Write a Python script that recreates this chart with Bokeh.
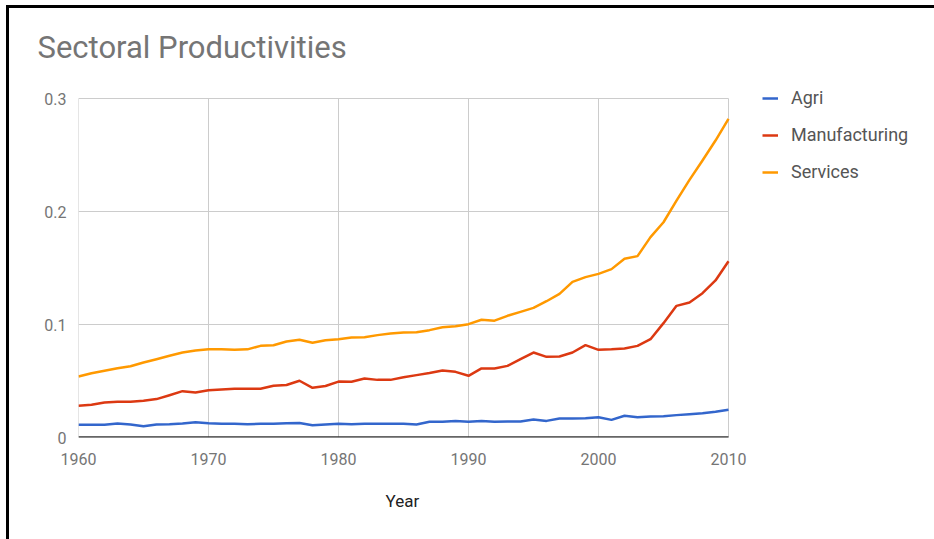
from bokeh.plotting import figure
from bokeh.models import (Range1d, FixedTicker, CustomJSTickFormatter,
                          Legend, LegendItem, Title)
from bokeh.embed import file_html
from bokeh.resources import INLINE

# ---- data -------------------------------------------------------------
years = list(range(1960, 2011))

agri = [0.0112, 0.0112, 0.0112, 0.0124, 0.0115, 0.0100, 0.0115, 0.0118, 0.0124, 0.0136,
        0.0127, 0.0121, 0.0121, 0.0118, 0.0121, 0.0121, 0.0127, 0.0129, 0.0109, 0.0115,
        0.0121, 0.0118, 0.0121, 0.0121, 0.0121, 0.0121, 0.0115, 0.0139, 0.0139, 0.0145,
        0.0139, 0.0145, 0.0139, 0.0142, 0.0142, 0.0159, 0.0147, 0.0168, 0.0168, 0.0171,
        0.0180, 0.0156, 0.0192, 0.0180, 0.0186, 0.0189, 0.0198, 0.0206, 0.0215, 0.0227,
        0.0245]

manufacturing = [0.0280, 0.0290, 0.0310, 0.0316, 0.0316, 0.0325, 0.0340, 0.0374, 0.0410, 0.0398,
                 0.0419, 0.0425, 0.0431, 0.0431, 0.0431, 0.0458, 0.0465, 0.0502, 0.0440, 0.0456,
                 0.0495, 0.0493, 0.0522, 0.0510, 0.0510, 0.0534, 0.0552, 0.0570, 0.0593, 0.0581,
                 0.0546, 0.0611, 0.0610, 0.0634, 0.0693, 0.0752, 0.0714, 0.0717, 0.0752, 0.0817,
                 0.0776, 0.0780, 0.0788, 0.0811, 0.0870, 0.1012, 0.1165, 0.1195, 0.1277, 0.1390,
                 0.1560]

services = [0.0540, 0.0569, 0.0590, 0.0612, 0.0630, 0.0664, 0.0693, 0.0723, 0.0752, 0.0770,
            0.0782, 0.0782, 0.0776, 0.0780, 0.0811, 0.0817, 0.0850, 0.0865, 0.0838, 0.0860,
            0.0870, 0.0884, 0.0887, 0.0906, 0.0920, 0.0929, 0.0932, 0.0950, 0.0976, 0.0985,
            0.1003, 0.1042, 0.1034, 0.1077, 0.1112, 0.1147, 0.1206, 0.1271, 0.1377, 0.1419,
            0.1448, 0.1490, 0.1581, 0.1605, 0.1773, 0.1905, 0.2097, 0.2280, 0.2451, 0.2628,
            0.2820]

series_names = ["Agri", "Manufacturing", "Services"]
series_colors = ["#3366cc", "#dc3912", "#ff9900"]
x_ticks = [1960, 1970, 1980, 1990, 2000, 2010]
y_ticks = [0, 0.1, 0.2, 0.3]

FONT = "Roboto"

# ---- geometry ---------------------------------------------------------
W, H = 934, 539
PLOT_L, PLOT_R = 78, 728      # pixel extent of the chart area
PLOT_T, PLOT_B = 98, 437
FRAME_T = 70                  # drawing frame reaches a bit higher so the
                              # legend beside the chart is not clipped
x0, x1 = x_ticks[0], x_ticks[-1]
y0, y1 = y_ticks[0], y_ticks[-1]
x_end = x0 + (x1 - x0) * (W - PLOT_L) / (PLOT_R - PLOT_L)
y_end = y0 + (y1 - y0) * (PLOT_B - FRAME_T) / (PLOT_B - PLOT_T)

p = figure(width=W, height=H, output_backend="svg", toolbar_location=None,
           x_range=Range1d(x0, x_end), y_range=Range1d(y0, y_end),
           min_border_left=PLOT_L, min_border_right=0,
           min_border_top=FRAME_T, min_border_bottom=H - PLOT_B)

# black page frame (top and left edges) painted as CSS background
# behind the transparent canvas border
p.styles = {
    "background": ("linear-gradient(#000, #000) 6px 5px / 3px 534px no-repeat, "
                   "linear-gradient(#000, #000) 6px 5px / 928px 3px no-repeat, #fff"),
}
p.border_fill_color = None
p.background_fill_color = "white"
p.outline_line_color = None
p.grid.visible = False

p.title.text = "Sectoral Productivities"
p.title.text_font = FONT
p.title.text_font_size = "31px"
p.title.text_font_style = "normal"
p.title.text_color = "#757575"
p.title.align = "left"
p.title.offset = -41
p.title.standoff = 10

# ---- axes -------------------------------------------------------------
p.xaxis.ticker = FixedTicker(ticks=x_ticks)
p.yaxis.ticker = FixedTicker(ticks=y_ticks)
p.yaxis.formatter = CustomJSTickFormatter(code="return String(tick);")

for ax in (p.xaxis[0], p.yaxis[0]):
    ax.axis_line_color = None
    ax.major_tick_line_color = None
    ax.minor_tick_line_color = None
    ax.major_tick_out = 0
    ax.major_tick_in = 0
    ax.minor_tick_out = 0
    ax.major_label_text_font = FONT
    ax.major_label_text_font_size = "16px"
    ax.major_label_text_color = "#757575"

p.yaxis.major_label_standoff = 12
p.xaxis.major_label_standoff = 15

# "Year" caption centred under the chart area
year_title = Title(text="Year", align="left", offset=(PLOT_L + PLOT_R) / 2 - PLOT_L - 18,
                   text_font=FONT, text_font_size="17px", text_font_style="normal",
                   text_color="#222222", standoff=43)
p.add_layout(year_title, "below")

# ---- grid, baseline and series ----------------------------------------
p.segment(x0=[x0] * len(y_ticks), y0=y_ticks, x1=[x1] * len(y_ticks), y1=y_ticks,
          line_color="#cccccc", line_width=1)
p.segment(x0=x_ticks, y0=[y0] * len(x_ticks), x1=x_ticks, y1=[y1] * len(x_ticks),
          line_color="#cccccc", line_width=1)
p.segment(x0=[x0], y0=[y0], x1=[x1], y1=[y0], line_color="#333333", line_width=2.5)

renderers = []
for vals, color in zip([agri, manufacturing, services], series_colors):
    r = p.line(years, vals, line_color=color, line_width=2.5, line_join="round")
    renderers.append(r)

# ---- legend -----------------------------------------------------------
legend = Legend(items=[LegendItem(label=n, renderers=[r]) for n, r in zip(series_names, renderers)],
                location=(762 - PLOT_L, PLOT_B - 182), orientation="vertical",
                glyph_width=16, glyph_height=20, label_height=20,
                label_standoff=13, spacing=16, padding=0, margin=0,
                border_line_color=None, background_fill_alpha=0,
                label_text_font=FONT, label_text_font_size="18px",
                label_text_color="#555555")
p.add_layout(legend, "center")

open("out.html", "w").write(file_html(p, INLINE))
